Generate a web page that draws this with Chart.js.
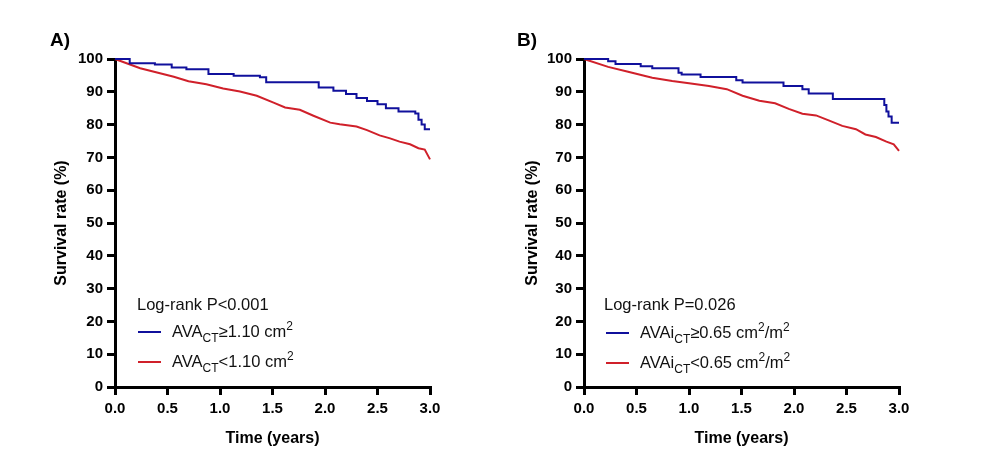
<!DOCTYPE html>
<html>
<head>
<meta charset="utf-8">
<script src="https://cdn.jsdelivr.net/npm/chart.js@4/dist/chart.umd.min.js"></script>
<style>
  body { margin:0; background:#fff; font-family:"Liberation Sans", Arial, sans-serif; }
  #wrap { position:relative; width:1001px; height:470px; overflow:hidden; }
  .panel { position:absolute; top:0; width:500px; height:470px; }
  .tag { position:absolute; font-weight:bold; font-size:19px; line-height:20px; }
  .note { position:absolute; font-size:16.5px; line-height:18px; white-space:nowrap; color:#111; }
  .key { position:absolute; height:2px; width:23px; }
  .note sub { font-size:12px; vertical-align:-5px; line-height:0; }
  .note sup { font-size:12px; vertical-align:7px; line-height:0; }
</style>
</head>
<body>
<div id="wrap">
  <div class="panel" style="left:0"><canvas id="chartA" width="500" height="470"></canvas></div>
  <div class="panel" style="left:469px"><canvas id="chartB" width="500" height="470"></canvas></div>

  <div class="tag" style="left:50px;top:30px">A)</div>
  <div class="tag" style="left:517px;top:30px">B)</div>

  <div class="note" style="left:137px;top:295px">Log-rank P&lt;0.001</div>
  <div class="key" style="left:138px;top:331px;background:#10109c"></div>
  <div class="note" style="left:172px;top:322px">AVA<sub>CT</sub>≥1.10 cm<sup>2</sup></div>
  <div class="key" style="left:138px;top:361px;background:#d0202a"></div>
  <div class="note" style="left:172px;top:352px">AVA<sub>CT</sub>&lt;1.10 cm<sup>2</sup></div>

  <div class="note" style="left:604px;top:295px">Log-rank P=0.026</div>
  <div class="key" style="left:606px;top:332px;background:#10109c"></div>
  <div class="note" style="left:640px;top:323px">AVAi<sub>CT</sub>≥0.65 cm<sup>2</sup>/m<sup>2</sup></div>
  <div class="key" style="left:606px;top:362px;background:#d0202a"></div>
  <div class="note" style="left:640px;top:353px">AVAi<sub>CT</sub>&lt;0.65 cm<sup>2</sup>/m<sup>2</sup></div>
</div>

<script>
// axis ticks
var xTicks = [0, 0.5, 1.0, 1.5, 2.0, 2.5, 3.0];
var yTicks = [0, 10, 20, 30, 40, 50, 60, 70, 80, 90, 100];

// panel A  (AVA_CT >= 1.10 / < 1.10 cm2)
var timeA_hi = [0, 0.14, 0.38, 0.54, 0.68, 0.89, 1.13, 1.38, 1.44, 1.94, 2.08, 2.20, 2.30, 2.40, 2.50, 2.58, 2.70, 2.86, 2.89, 2.92, 2.95, 3.0];
var survA_hi = [100, 98.7, 98.3, 97.4, 96.9, 95.4, 94.9, 94.4, 92.9, 91.3, 90.3, 89.3, 88.1, 87.2, 86.2, 85.0, 84.0, 83.4, 81.5, 80.0, 78.6, 78.6];
var timeA_lo = [0, 0.24, 0.40, 0.56, 0.70, 0.87, 1.03, 1.19, 1.35, 1.51, 1.62, 1.76, 1.89, 2.05, 2.14, 2.30, 2.40, 2.52, 2.62, 2.71, 2.81, 2.89, 2.95, 3.0];
var survA_lo = [100, 97.2, 95.9, 94.6, 93.2, 92.3, 91.0, 90.1, 88.8, 86.7, 85.2, 84.5, 82.7, 80.6, 80.1, 79.4, 78.3, 76.7, 75.8, 74.8, 74.0, 72.8, 72.4, 69.4];

// panel B  (AVAi_CT >= 0.65 / < 0.65 cm2/m2)
var timeB_hi = [0, 0.23, 0.30, 0.54, 0.65, 0.90, 0.93, 1.11, 1.45, 1.51, 1.90, 2.08, 2.14, 2.37, 2.86, 2.88, 2.90, 2.93, 3.0];
var survB_hi = [100, 99.3, 98.5, 97.8, 97.2, 95.8, 95.3, 94.5, 93.5, 92.8, 91.8, 90.8, 89.5, 87.8, 86.0, 84.0, 82.5, 80.6, 80.6];
var timeB_lo = [0, 0.23, 0.42, 0.65, 0.84, 1.00, 1.19, 1.36, 1.51, 1.67, 1.82, 1.95, 2.08, 2.21, 2.33, 2.46, 2.59, 2.68, 2.78, 2.88, 2.95, 3.0];
var survB_lo = [100, 97.6, 96.1, 94.3, 93.3, 92.6, 91.8, 90.8, 88.8, 87.3, 86.5, 84.8, 83.3, 82.8, 81.3, 79.6, 78.6, 77.0, 76.2, 74.8, 74.0, 72.0];

var BLUE = '#10109c';
var RED = '#d0202a';

function points(times, surv) {
  var out = [];
  for (let i = 0; i < times.length; i++) {
    out.push({x: times[i], y: surv[i]});
  }
  return out;
}

function renderChart(chartId, hi, lo, titlePad) {
  var ctx = document.getElementById(chartId).getContext('2d');
  var tickFont = {family: 'Liberation Sans', size: 15, weight: 'bold'};
  var titleFont = {family: 'Liberation Sans', size: 16, weight: 'bold'};
  return new Chart(ctx, {
    type: 'line',
    data: {
      datasets: [{
        data: hi,
        borderColor: BLUE,
        borderWidth: 2,
        stepped: true,
        pointRadius: 0,
        clip: 6
      }, {
        data: lo,
        borderColor: RED,
        borderWidth: 2,
        tension: 0,
        pointRadius: 0,
        clip: 6
      }]
    },
    options: {
      responsive: false,
      animation: false,
      events: [],
      layout: {padding: {top: 59, right: 70, left: 0, bottom: 0}},
      plugins: {legend: {display: false}, tooltip: {enabled: false}},
      scales: {
        x: {
          type: 'linear',
          min: 0, max: 3,
          afterBuildTicks: function (s) { s.ticks = xTicks.map(function (v) { return {value: v}; }); },
          afterFit: function (s) { s.height = 83; },
          ticks: {color: '#000', font: tickFont, padding: 5, maxRotation: 0,
                  callback: function (v) { return Number(v).toFixed(1); }},
          grid: {drawOnChartArea: false, color: '#000', lineWidth: 3, tickLength: 8, tickWidth: 3},
          border: {color: '#000', width: 3},
          title: {display: true, text: 'Time (years)', color: '#000', font: titleFont, padding: {top: 0, bottom: 22}}
        },
        y: {
          min: 0, max: 100,
          afterBuildTicks: function (s) { s.ticks = yTicks.map(function (v) { return {value: v}; }); },
          afterFit: function (s) { s.width = 115; },
          ticks: {color: '#000', font: tickFont, padding: 4},
          grid: {drawOnChartArea: false, color: '#000', lineWidth: 3, tickLength: 8, tickWidth: 3},
          border: {color: '#000', width: 3},
          title: {display: true, text: 'Survival rate (%)', color: '#000', font: titleFont, padding: {top: titlePad, bottom: 0}}
        }
      }
    }
  });
}

renderChart('chartA', points(timeA_hi, survA_hi), points(timeA_lo, survA_lo), 52);
renderChart('chartB', points(timeB_hi, survB_hi), points(timeB_lo, survB_lo), 54);
</script>
</body>
</html>
